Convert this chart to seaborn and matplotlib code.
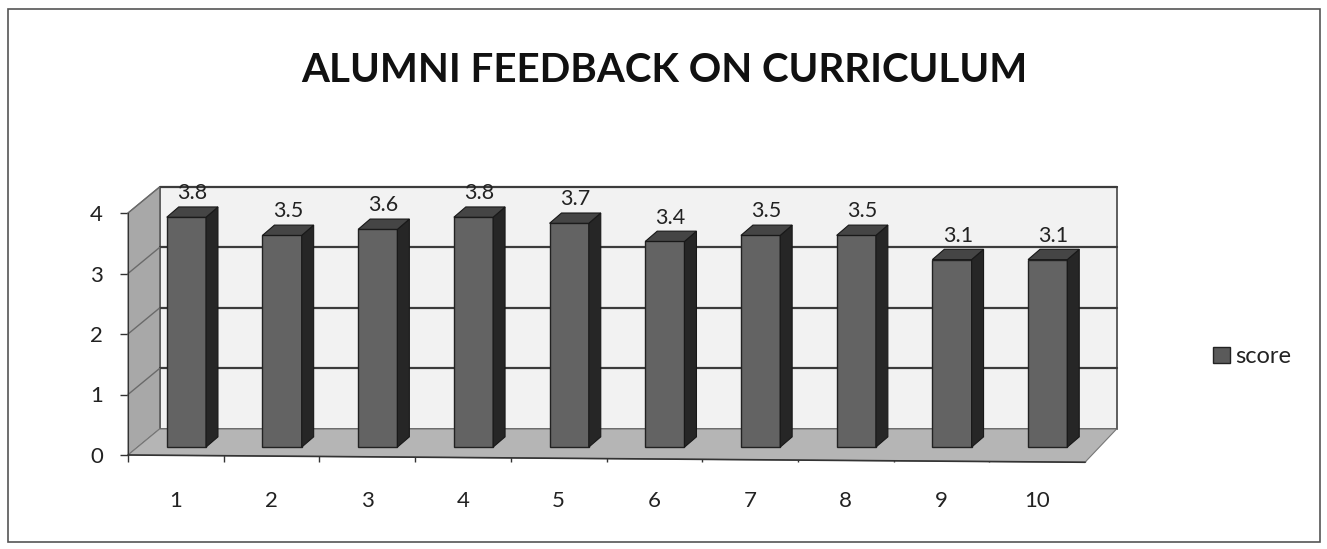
import numpy as np
import pandas as pd
import seaborn as sns
import matplotlib
matplotlib.use("Agg")
import matplotlib.pyplot as plt
import matplotlib.transforms as mtransforms
from matplotlib.patches import Polygon, Rectangle

categories = ["1", "2", "3", "4", "5", "6", "7", "8", "9", "10"]
scores = [3.8, 3.5, 3.6, 3.8, 3.7, 3.4, 3.5, 3.5, 3.1, 3.1]
yticks = [0, 1, 2, 3, 4]
title = "ALUMNI FEEDBACK ON CURRICULUM"
series_name = "score"

df = pd.DataFrame({"cat": categories, "score": scores})

sns.set_style("white")
plt.rcParams["font.family"] = ["Lato", "DejaVu Sans"]

fig = plt.figure(figsize=(13.27, 5.49), dpi=100)
ax = fig.add_axes([128/1327, 94/549, (1085-128)/1327, (455-213)/549])

FRONT = "#636363"
SIDE = "#262626"
TOP = "#454545"

sns.barplot(data=df, x="cat", y="score", color=FRONT, width=0.41,
            edgecolor="#222222", linewidth=1.0, saturation=1, ax=ax, zorder=5)

ax.set_xlim(-0.5, len(categories) - 0.5)
ax.set_ylim(0, 4)

# 3D-like walls
dxw, dyw = 0.33, 0.43
x0, x1 = -0.5, len(categories) - 0.5
back = Rectangle((x0 + dxw, dyw), x1 - x0, 4, facecolor="#f2f2f2",
                 edgecolor="#444444", lw=1.2, zorder=0, clip_on=False)
left = Polygon([(x0, 0), (x0, 4), (x0 + dxw, 4 + dyw), (x0 + dxw, dyw)],
               closed=True, facecolor="#a8a8a8", edgecolor="#666666", lw=0.8,
               zorder=1, clip_on=False)
floor = Polygon([(x0, 0), (x1, -0.12), (x1 + dxw, dyw), (x0 + dxw, dyw)],
                closed=True, facecolor="#b5b5b5", edgecolor="#777777", lw=0.8,
                zorder=1, clip_on=False)
for p in (back, left, floor):
    ax.add_patch(p)
for v in yticks[1:]:
    ax.plot([x0 + dxw, x1 + dxw], [v + dyw, v + dyw], color="#3c3c3c", lw=1.6,
            zorder=2, clip_on=False)
    ax.plot([x0, x0 + dxw], [v, v + dyw], color="#6a6a6a", lw=1.0, zorder=2,
            clip_on=False)

# bars: shift into depth and add side / top faces
bdx, bdy = 0.11, 0.13
ddx, ddy = 0.125, 0.17
shift = mtransforms.Affine2D().translate(bdx, bdy) + ax.transData
bars = list(ax.patches)[: len(categories)]
for patch in bars:
    patch.set_transform(shift)
    patch.set_clip_on(False)
    bx = patch.get_x() + bdx
    bw = patch.get_width()
    bh = patch.get_height()
    by = bdy
    side = Polygon([(bx + bw, by), (bx + bw + ddx, by + ddy),
                    (bx + bw + ddx, by + bh + ddy), (bx + bw, by + bh)],
                   closed=True, facecolor=SIDE, edgecolor="#181818", lw=0.8,
                   zorder=5, clip_on=False)
    top = Polygon([(bx, by + bh), (bx + ddx, by + bh + ddy),
                   (bx + bw + ddx, by + bh + ddy), (bx + bw, by + bh)],
                  closed=True, facecolor=TOP, edgecolor="#181818", lw=0.8,
                  zorder=5, clip_on=False)
    ax.add_patch(side)
    ax.add_patch(top)
    ax.text(bx + bw / 2 + 0.06, by + bh + ddy + 0.06, f"{bh:.1f}",
            ha="center", va="bottom", fontsize=15.5, color="#222222", zorder=6,
            clip_on=False)

# axes styling
for s in ("top", "right"):
    ax.spines[s].set_visible(False)
ax.spines["left"].set_color("#333333")
ax.spines["bottom"].set_visible(False)
ax.plot([x0, x1], [0, -0.12], color="#333333", lw=1.2, clip_on=False, zorder=3)
ax.set_yticks(yticks)
ax.set_yticklabels([str(v) for v in yticks])
ax.tick_params(axis="y", length=6, width=1, color="#333333", labelsize=16,
               pad=12, left=True, labelcolor="#222222")
ax.set_xticks(range(len(categories)))
ax.set_xticklabels(categories)
ax.set_xticks(np.arange(-0.5, len(categories), 1.0), minor=True)
ax.tick_params(axis="x", which="major", length=0, labelsize=16, pad=26,
               labelcolor="#222222")
ax.tick_params(axis="x", which="minor", length=5, width=1, color="#333333",
               bottom=True)
ax.set_xlabel("")
ax.set_ylabel("")
ax.patch.set_alpha(0)

fig.text(0.5 + 0.001, 1 - 70/549, title, ha="center", va="center",
         fontsize=29, fontweight="bold", color="#111111")

handle = Rectangle((0, 0), 1, 1, facecolor="#5a5a5a", edgecolor="#222222")
fig.legend([handle], [series_name], loc="center left",
           bbox_to_anchor=(1192/1327, 1 - 357/549), frameon=False,
           fontsize=17, handlelength=0.7, handleheight=0.7, handletextpad=0.25,
           labelcolor="#222222")

border = Rectangle((8/1327, 7/549), 1312/1327, 533/549, transform=fig.transFigure,
                   fill=False, edgecolor="#555555", lw=1.2)
fig.patches.append(border)

fig.savefig("out.png", dpi=100, facecolor="white")
